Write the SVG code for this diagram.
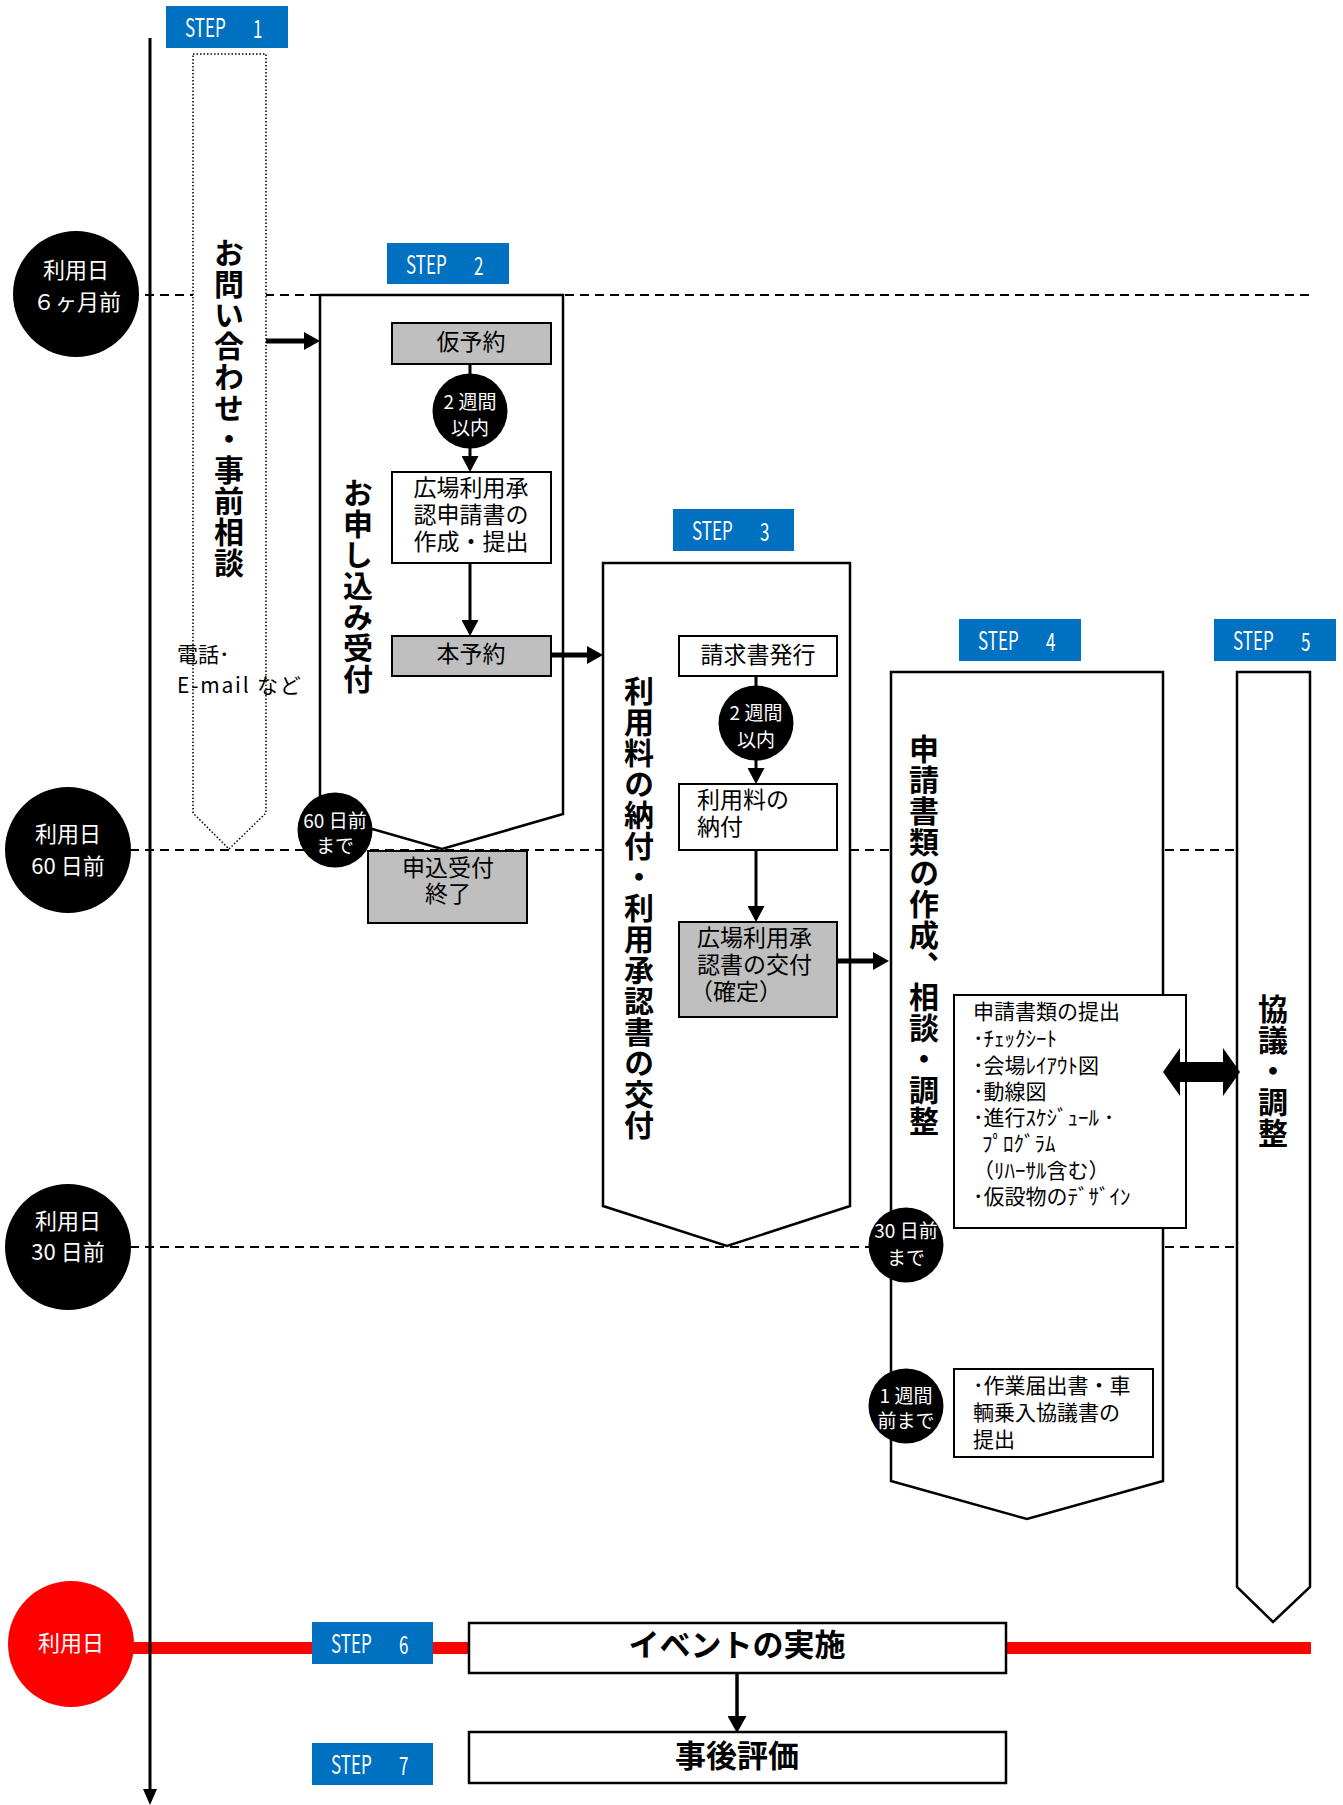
<svg xmlns="http://www.w3.org/2000/svg" width="1343" height="1805" viewBox="0 0 1343 1805">
<style>
text{font-family:"Noto Sans CJK JP","Noto Sans",sans-serif;fill:#000;}
.sb{fill:#0070C0;}
.st{fill:#fff;font-size:25px;dominant-baseline:central;}
.dash{stroke:#000;stroke-width:2;stroke-dasharray:9 6;fill:none;}
.frame{fill:#fff;stroke:#000;stroke-width:2.5;}
.box{fill:#fff;stroke:#000;stroke-width:2;}
.gray{fill:#BFBFBF;stroke:#000;stroke-width:2;}
.bt{font-size:23px;dominant-baseline:central;}
.lt{font-size:21px;dominant-baseline:central;}
.c{text-anchor:middle;}
.vt{font-size:30px;font-weight:bold;writing-mode:vertical-rl;letter-spacing:1px;}
.ms{fill:#000;}
.mt{fill:#fff;font-size:22px;text-anchor:middle;dominant-baseline:central;}
.sm{fill:#fff;font-size:19px;text-anchor:middle;dominant-baseline:central;}
.thin{stroke:#000;stroke-width:3;fill:none;}
.thick{stroke:#000;stroke-width:5;fill:none;}
.big{font-size:31px;font-weight:bold;text-anchor:middle;dominant-baseline:central;}
</style>
<defs>
<marker id="ah" markerUnits="userSpaceOnUse" markerWidth="16" markerHeight="17" refX="13" refY="8.5" orient="auto"><path d="M0,0 L16,8.5 L0,17 z" fill="#000"/></marker>
<marker id="ahb" markerUnits="userSpaceOnUse" markerWidth="16" markerHeight="18" refX="11" refY="9" orient="auto"><path d="M0,0 L16,9 L0,18 z" fill="#000"/></marker>
<marker id="ahm" markerUnits="userSpaceOnUse" markerWidth="17" markerHeight="19" refX="13" refY="9.5" orient="auto"><path d="M0,0 L17,9.5 L0,19 z" fill="#000"/></marker>
</defs>

<g id="guides">
<line class="dash" x1="130" y1="295" x2="1312" y2="295"/>
<line class="dash" x1="130" y1="850" x2="1312" y2="850"/>
<line class="dash" x1="130" y1="1247" x2="1312" y2="1247"/>
<rect x="130" y="1642" width="1181" height="12" fill="#FF0000"/>
</g>

<g id="timeline">
<line x1="150" y1="38" x2="150" y2="1792" stroke="#000" stroke-width="3"/>
<polygon points="143,1789 157,1789 150,1805" fill="#000"/>
</g>

<g id="step1">
<rect class="sb" x="166" y="6" width="122" height="42"/>
<text class="st" transform="translate(185,26) scale(0.68,1)">STEP <tspan x="100">1</tspan></text>
<polygon points="193,54 266,54 266,813 229,849 193,813" fill="#fff" stroke="#000" stroke-width="1.5" stroke-dasharray="1.5 2"/>
<text class="vt" x="229" y="238">お問い合わせ・事前相談</text>
<text font-size="21" dominant-baseline="central"><tspan x="177" y="653">電話･</tspan><tspan x="177" y="684" letter-spacing="1.8">E-mail など</tspan></text>
</g>

<g id="step2">
<rect class="sb" x="387" y="243" width="122" height="41"/>
<text class="st" transform="translate(406,263) scale(0.68,1)">STEP <tspan x="100">2</tspan></text>
<polygon class="frame" points="320,295 563,295 563,814 442,849 320,814"/>
<text class="vt" x="358" y="478">お申し込み受付</text>
</g>

<g id="kariyoyaku">
<rect class="gray" x="392" y="323" width="159" height="41"/>
<text class="bt c" x="471" y="340">仮予約</text>
</g>

<g id="shinsei">
<rect class="box" x="392" y="472" width="159" height="91"/>
<text class="bt c"><tspan x="471" y="486">広場利用承</tspan><tspan x="471" y="513">認申請書の</tspan><tspan x="471" y="540">作成・提出</tspan></text>
</g>

<g id="honyoyaku">
<rect class="gray" x="392" y="636" width="159" height="40"/>
<text class="bt c" x="471" y="652">本予約</text>
</g>

<g id="moushikomi-end">
<rect class="gray" x="368" y="851" width="159" height="72"/>
<text class="bt c"><tspan x="448" y="866">申込受付</tspan><tspan x="448" y="892">終了</tspan></text>
</g>

<g id="step3">
<rect class="sb" x="673" y="509" width="121" height="42"/>
<text class="st" transform="translate(692,529) scale(0.68,1)">STEP <tspan x="100">3</tspan></text>
<polygon class="frame" points="603,563 850,563 850,1206 727,1246 603,1206"/>
<text class="vt" x="639" y="676">利用料の納付・利用承認書の交付</text>
</g>

<g id="seikyu">
<rect class="box" x="679" y="636" width="158" height="40"/>
<text class="bt c" x="758" y="653">請求書発行</text>
</g>

<g id="nofu">
<rect class="box" x="679" y="784" width="158" height="66"/>
<text class="bt"><tspan x="697" y="798">利用料の</tspan><tspan x="697" y="825">納付</tspan></text>
</g>

<g id="shonin">
<rect class="gray" x="679" y="922" width="158" height="95"/>
<text class="bt"><tspan x="697" y="936">広場利用承</tspan><tspan x="697" y="963">認書の交付</tspan><tspan x="690" y="990">（確定）</tspan></text>
</g>

<g id="step4">
<rect class="sb" x="959" y="619" width="122" height="42"/>
<text class="st" transform="translate(978,639) scale(0.68,1)">STEP <tspan x="100">4</tspan></text>
<polygon class="frame" points="891,672 1163,672 1163,1481 1027,1519 891,1481"/>
<text class="vt" x="924" y="734">申請書類の作成、相談・調整</text>
</g>

<g id="shorui">
<rect class="box" x="954" y="995" width="232" height="233"/>
<text class="lt"><tspan x="973" y="1010">申請書類の提出</tspan><tspan x="973" y="1037">･ﾁｪｯｸｼｰﾄ</tspan><tspan x="973" y="1064">･会場ﾚｲｱｳﾄ図</tspan><tspan x="973" y="1090">･動線図</tspan><tspan x="973" y="1116">･進行ｽｹｼﾞｭｰﾙ ･</tspan><tspan x="982" y="1142">ﾌﾟﾛｸﾞﾗﾑ</tspan><tspan x="973" y="1169">（ﾘﾊｰｻﾙ含む）</tspan><tspan x="973" y="1195">･仮設物のﾃﾞｻﾞｲﾝ</tspan></text>
</g>

<g id="sagyo">
<rect class="box" x="954" y="1369" width="199" height="88"/>
<text class="lt"><tspan x="973" y="1384">･作業届出書・車</tspan><tspan x="973" y="1411">輌乗入協議書の</tspan><tspan x="973" y="1438">提出</tspan></text>
</g>

<g id="step5">
<rect class="sb" x="1214" y="619" width="122" height="42"/>
<text class="st" transform="translate(1233,639) scale(0.68,1)">STEP <tspan x="100">5</tspan></text>
<polygon class="frame" points="1237,672 1310,672 1310,1587 1273,1622 1237,1587"/>
<text class="vt" x="1273" y="994">協議・調整</text>
</g>

<g id="step6">
<rect class="sb" x="312" y="1622" width="121" height="42"/>
<text class="st" transform="translate(331,1642) scale(0.68,1)">STEP <tspan x="100">6</tspan></text>
<rect x="469" y="1623" width="537" height="50" fill="#fff" stroke="#000" stroke-width="2.5"/>
<text class="big" x="737" y="1642">イベントの実施</text>
</g>

<g id="step7">
<rect class="sb" x="312" y="1743" width="121" height="42"/>
<text class="st" transform="translate(331,1763) scale(0.68,1)">STEP <tspan x="100">7</tspan></text>
<rect x="469" y="1732" width="537" height="51" fill="#fff" stroke="#000" stroke-width="2.5"/>
<text class="big" x="737" y="1753">事後評価</text>
</g>

<g id="connectors">
<path class="thick" d="M266,341 H315" marker-end="url(#ahb)"/>
<path class="thin" d="M470,364 V380"/>
<path class="thin" d="M470,440 V469" marker-end="url(#ah)"/>
<path class="thin" d="M470,563 V633" marker-end="url(#ah)"/>
<path class="thick" d="M551,655 H598" marker-end="url(#ahb)"/>
<path class="thin" d="M756,676 V692"/>
<path class="thin" d="M756,752 V781" marker-end="url(#ah)"/>
<path class="thin" d="M756,850 V919" marker-end="url(#ah)"/>
<path class="thick" d="M837,961 H884" marker-end="url(#ahb)"/>
<polygon points="1163,1072 1180,1048 1180,1062 1223,1062 1223,1048 1240,1072 1223,1096 1223,1082 1180,1082 1180,1096" fill="#000"/>
<path d="M737,1673 V1729" stroke="#000" stroke-width="3.5" fill="none" marker-end="url(#ahm)"/>
</g>

<g id="m-2w-a">
<circle class="ms" cx="470" cy="411" r="37.5"/>
<text class="sm"><tspan x="470" y="400">2 週間</tspan><tspan x="470" y="426">以内</tspan></text>
</g>
<g id="m-2w-b">
<circle class="ms" cx="756" cy="723" r="37.5"/>
<text class="sm"><tspan x="756" y="711">2 週間</tspan><tspan x="756" y="738">以内</tspan></text>
</g>
<g id="m-60made">
<circle class="ms" cx="335" cy="830" r="37.5"/>
<text class="sm"><tspan x="335" y="819">60 日前</tspan><tspan x="335" y="844">まで</tspan></text>
</g>
<g id="m-30made">
<circle class="ms" cx="906" cy="1245" r="37.5"/>
<text class="sm"><tspan x="906" y="1229">30 日前</tspan><tspan x="906" y="1256">まで</tspan></text>
</g>
<g id="m-1wmade">
<circle class="ms" cx="906" cy="1406" r="37.5"/>
<text class="sm"><tspan x="906" y="1394">1 週間</tspan><tspan x="906" y="1419">前まで</tspan></text>
</g>

<g id="t-6m">
<circle class="ms" cx="76" cy="294" r="63"/>
<text class="mt"><tspan x="76" y="268">利用日</tspan><tspan x="77" y="300">６ヶ月前</tspan></text>
</g>
<g id="t-60d">
<circle class="ms" cx="68" cy="850" r="63"/>
<text class="mt"><tspan x="68" y="832">利用日</tspan><tspan x="68" y="864">60 日前</tspan></text>
</g>
<g id="t-30d">
<circle class="ms" cx="68" cy="1247" r="63"/>
<text class="mt"><tspan x="68" y="1219">利用日</tspan><tspan x="68" y="1250">30 日前</tspan></text>
</g>
<g id="t-day">
<circle cx="71" cy="1644" r="63" fill="#FF0000"/>
<text class="mt" x="71" y="1641">利用日</text>
</g>
</svg>
